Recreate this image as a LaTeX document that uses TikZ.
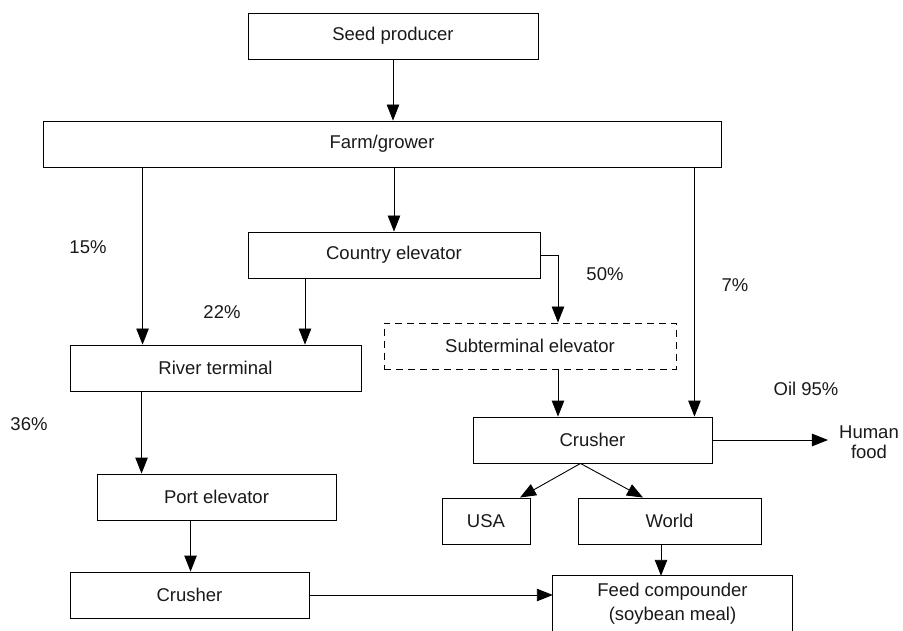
\documentclass[tikz,border=0pt]{standalone}
\usepackage{fontspec}
\setmainfont{Liberation Sans}
\usetikzlibrary{arrows.meta}
\begin{document}
\begin{tikzpicture}[x=1pt,y=-1pt,
  every node/.style={font=\fontsize{18.5}{20}\selectfont, text=black!90},
  box/.style={draw, line width=0.9pt, minimum height=46pt, inner sep=0pt},
  dbox/.style={box, dash pattern=on 7pt off 5pt},
  lbl/.style={inner sep=0pt},
  arr/.style={line width=0.9pt, -{Triangle[length=16pt,width=12.5pt]}},
  ln/.style={line width=0.9pt}]
\useasboundingbox (0,0) rectangle (903,631);
\node[box, minimum width=290pt] (seed) at (393,36) {Seed producer};
\node[box, minimum width=678pt] (farm) at (382,144) {Farm/grower};
\node[box, minimum width=292pt] (country) at (394,255) {Country elevator};
\node[box, minimum width=291pt] (river) at (215.5,368) {River terminal};
\node[dbox, minimum width=292pt] (sub) at (530,346) {Subterminal elevator};
\node[box, minimum width=239pt] (crusherR) at (592.5,440) {Crusher};
\node[box, minimum width=239pt] (port) at (216.5,497) {Port elevator};
\node[box, minimum width=239pt] (crusherL) at (189.5,595) {Crusher};
\node[box, minimum width=88pt] (usa) at (486,521) {USA};
\node[box, minimum width=183pt] (world) at (669.5,521) {World};
\node[minimum width=239pt, minimum height=55pt, inner sep=0pt, align=center,
      font=\fontsize{18.5}{24}\selectfont] (feed) at (672.5,603.5) {Feed compounder\\(soybean meal)};
\draw[ln] (feed.south west) -- (feed.north west) -- (feed.north east) -- (feed.south east);
\node[lbl, align=center, inner xsep=11pt] (food) at (869,442) {Human\\food};
\node[lbl] (p15) at (88,247) {15\%};
\node[lbl] (p22) at (222,312) {22\%};
\node[lbl] (p50) at (605,274) {50\%};
\node[lbl] (p7) at (735,285) {7\%};
\node[lbl] (p36) at (29,424) {36\%};
\node[lbl] (oil) at (806,389) {Oil 95\%};
% connectors
\draw[arr] (seed.south) -- (seed.south |- farm.north);
\draw[arr] (country.north |- farm.south) -- (country.north);
\coordinate (fl) at ([xshift=73pt]river.north west);
\draw[arr] (fl |- farm.south) -- (fl);
\coordinate (c2) at ([xshift=-89pt]country.south);
\draw[arr] (c2) -- (c2 |- river.north);
\draw[arr] (country.east) -| ([xshift=28pt]sub.north);
\coordinate (s2) at ([xshift=28pt]sub.south);
\draw[arr] (s2) -- (s2 |- crusherR.north);
\coordinate (fr) at ([xshift=-27pt]farm.south east);
\draw[arr] (fr) -- (fr |- crusherR.north);
\draw[arr] (crusherR.east) -- (crusherR.east -| food.west);
\coordinate (ap) at ([xshift=-12pt]crusherR.south);
\draw[arr] (ap) -- ([xshift=34pt]usa.north);
\draw[arr] (ap) -- ([xshift=-26.5pt]world.north);
\coordinate (w2) at ([xshift=-8.5pt]world.south);
\draw[arr] (w2) -- (w2 |- feed.north);
\coordinate (r2) at ([xshift=72pt]river.south west);
\draw[arr] (r2) -- (r2 |- port.north);
\coordinate (pp) at ([xshift=94pt]port.south west);
\draw[arr] (pp) -- (pp |- crusherL.north);
\draw[arr] (crusherL.east) -- (crusherL.east -| feed.west);
\end{tikzpicture}
\end{document}
